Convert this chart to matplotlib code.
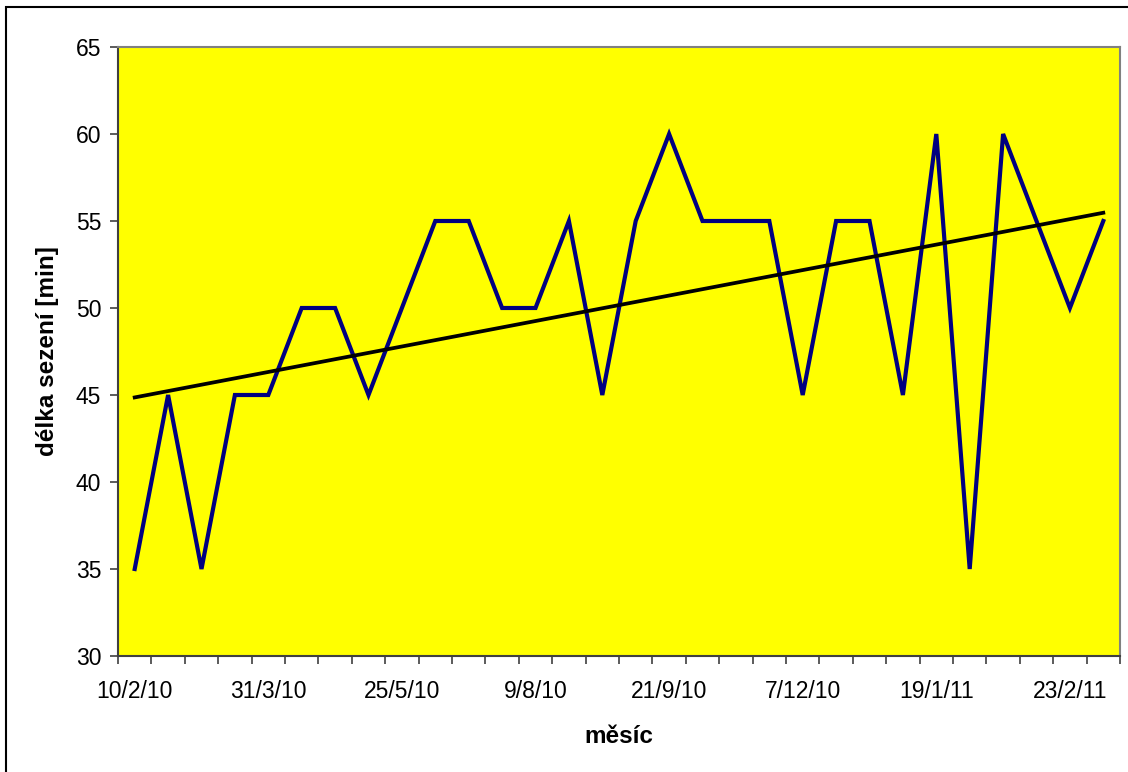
import numpy as np
import matplotlib
matplotlib.use("Agg")
import matplotlib.pyplot as plt
from matplotlib.patches import Rectangle

# ==========================================
# Data
# ==========================================

values = [35, 45, 35, 45, 45, 50, 50, 45, 50, 55,
          55, 50, 50, 55, 45, 55, 60, 55, 55, 55,
          45, 55, 55, 45, 60, 35, 60, 55, 50, 55]

label_pos = [0, 4, 8, 12, 16, 20, 24, 28]
label_text = ["10/2/10", "31/3/10", "25/5/10", "9/8/10",
              "21/9/10", "7/12/10", "19/1/11", "23/2/11"]

y_ticks = [30, 35, 40, 45, 50, 55, 60, 65]

plt.rcParams["font.family"] = ["Liberation Sans", "DejaVu Sans"]

x = np.arange(len(values))

# linear trendline
slope, intercept = np.polyfit(x + 1, values, 1)
trend = slope * (x + 1) + intercept

# ==========================================
# Plot
# ==========================================

fig = plt.figure(figsize=(11.28, 7.72), dpi=100)
fig.patch.set_facecolor("white")
fig.patches.append(Rectangle((6 / 1128, -0.1), 1.2, 1.1 - 7 / 772,
                             transform=fig.transFigure, fill=False,
                             edgecolor="black", linewidth=1.5))

ax = fig.add_axes([118 / 1128, 1 - 656 / 772, 1002 / 1128, 609 / 772])
ax.set_facecolor("#FFFF00")

ax.plot(x, values, color="#000080", linewidth=3, solid_joinstyle="miter", zorder=3)
ax.plot(x, trend, color="black", linewidth=2.7, zorder=4)

ax.set_xlim(-0.5, len(values) - 0.5)
ax.set_ylim(30, 65)
ax.set_yticks(y_ticks)

# tick marks between categories, labels on every 4th category
ax.set_xticks(np.arange(-0.5, len(values), 1.0))
ax.set_xticklabels([])
ax.set_xticks(label_pos, minor=True)
ax.set_xticklabels(label_text, minor=True)
ax.tick_params(axis="x", which="major", direction="out", length=6, width=1.2, color="#404040")
ax.tick_params(axis="x", which="minor", length=0, pad=17, labelsize=16.5)
ax.tick_params(axis="y", direction="out", length=6, width=1.2, color="#404040",
               labelsize=16.5, pad=6)

for side in ["top", "right"]:
    ax.spines[side].set_color("#808080")
    ax.spines[side].set_linewidth(1.5)
for side in ["left", "bottom"]:
    ax.spines[side].set_color("#404040")
    ax.spines[side].set_linewidth(1.5)

ax.set_xlabel("měsíc", fontsize=17.5, fontweight="bold", labelpad=16)
ax.set_ylabel("délka sezení [min]", fontsize=17.5, fontweight="bold", labelpad=12)

fig.savefig("out.png", dpi=100)
